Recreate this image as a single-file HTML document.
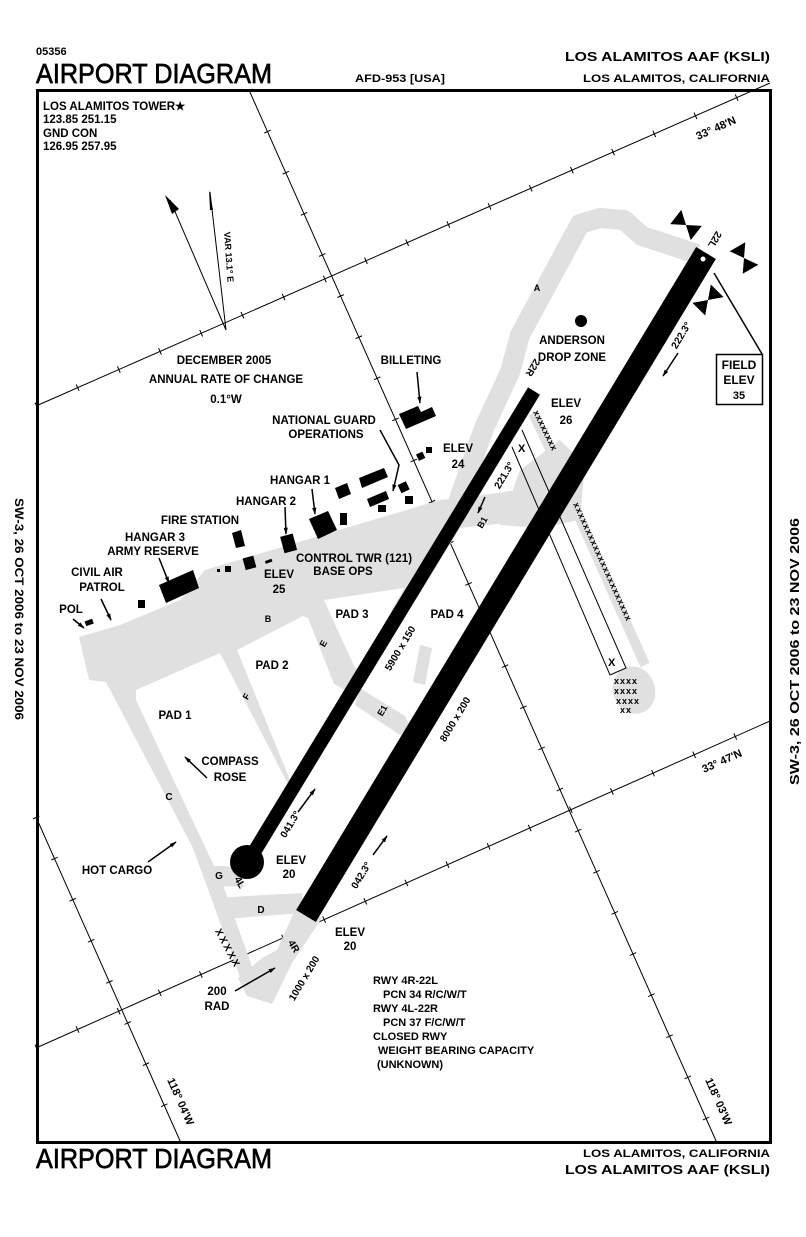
<!DOCTYPE html>
<html><head><meta charset="utf-8"><style>
html,body{margin:0;padding:0;background:#fff;}
svg{display:block;}
text{font-family:"Liberation Sans",sans-serif;font-weight:bold;fill:#000;}
</style></head><body>
<svg width="806" height="1237" viewBox="0 0 806 1237" xmlns="http://www.w3.org/2000/svg">
<defs>
<marker id="ah" viewBox="0 0 10 10" refX="9" refY="5" markerWidth="7" markerHeight="7" orient="auto-start-reverse" markerUnits="userSpaceOnUse"><path d="M0,2 L10,5 L0,8 Z" fill="#000"/></marker>
</defs>
<g font-size="11">
<!-- header -->
<text x="36" y="55" font-size="11">05356</text>
<text x="36" y="83" font-size="28" textLength="236" lengthAdjust="spacingAndGlyphs" style="font-weight:normal" stroke="#000" stroke-width="0.7">AIRPORT DIAGRAM</text>
<text x="355" y="82" font-size="11" textLength="90" lengthAdjust="spacingAndGlyphs">AFD-953 [USA]</text>
<text x="565" y="61" font-size="13" textLength="205" lengthAdjust="spacingAndGlyphs">LOS ALAMITOS AAF    (KSLI)</text>
<text x="583" y="82" font-size="11" textLength="187" lengthAdjust="spacingAndGlyphs">LOS ALAMITOS, CALIFORNIA</text>
<!-- footer -->
<text x="36" y="1168" font-size="28" textLength="236" lengthAdjust="spacingAndGlyphs" style="font-weight:normal" stroke="#000" stroke-width="0.7">AIRPORT DIAGRAM</text>
<text x="583" y="1157" font-size="11" textLength="187" lengthAdjust="spacingAndGlyphs">LOS ALAMITOS, CALIFORNIA</text>
<text x="565" y="1174" font-size="13" textLength="205" lengthAdjust="spacingAndGlyphs">LOS ALAMITOS AAF    (KSLI)</text>
<!-- side texts -->
<text transform="translate(15,498) rotate(90)" font-size="12" textLength="222" lengthAdjust="spacingAndGlyphs">SW-3, 26 OCT 2006 to 23 NOV 2006</text>
<text transform="translate(799,785) rotate(-90)" font-size="13" textLength="267" lengthAdjust="spacingAndGlyphs">SW-3, 26 OCT 2006 to 23 NOV 2006</text>
</g>

<!-- frame -->
<rect x="37.5" y="90.5" width="733" height="1052" fill="none" stroke="#000" stroke-width="3"/>

<!-- grid lines -->
<g stroke="#000" stroke-width="1" fill="none">
<line x1="36" y1="406" x2="770" y2="83"/>
<line x1="36" y1="1048" x2="770" y2="721"/>
<line x1="249" y1="90" x2="717" y2="1143"/>
<line x1="36" y1="817" x2="181" y2="1143"/>
</g>
<g stroke="#000" stroke-width="7" fill="none" stroke-dasharray="1 44">
<line x1="36" y1="406" x2="770" y2="83"/>
<line x1="36" y1="1048" x2="770" y2="721"/>
<line x1="249" y1="90" x2="717" y2="1143"/>
<line x1="36" y1="817" x2="181" y2="1143"/>
</g>

<!-- grey taxiways -->
<g fill="#e0e0e0" stroke="none">
<polyline points="697,254 642,236 624,220 600,218 580,224 520,335 510,372 484,428 458,502" fill="none" stroke="#e0e0e0" stroke-width="20" stroke-linejoin="round"/>
<polygon points="79,637 120,625 180,600 205,570 440,500 470,497 545,486 553,518 460,528 360,690 290,790 250,848 214,868 195,852 106,682 89,680"/>
<polygon points="106,680 136,700 207,840 255,975 247,995 240,977 190,840"/>
<polygon points="203,858 232,868 245,887 213,886"/>
<polygon points="212,898 302,893 302,913 225,919"/>
<polygon points="297,906 322,918 292,963 272,1004 247,996 238,978 262,958 277,950"/>
<polygon points="520,470 560,440 585,465 580,520 540,528 500,525"/>
<polygon points="360,688 405,716 412,730 400,735 355,705"/>
<polygon points="420,645 432,648 425,685 413,682"/>
<polygon points="283,700 293,703 288,735 278,732"/>
<polygon points="300,708 310,712 305,742 295,738"/>
<line x1="533" y1="413" x2="560" y2="470" stroke="#e0e0e0" stroke-width="10"/>
<line x1="573" y1="503" x2="645" y2="665" stroke="#e0e0e0" stroke-width="10"/>
<ellipse cx="634" cy="690" rx="21" ry="24" transform="rotate(-20 634 690)"/>
<polyline points="158,762 186,748" fill="none" stroke="#e0e0e0" stroke-width="7"/>
<circle cx="187" cy="748" r="6"/>
<polyline points="189,815 200,810 200,800" fill="none" stroke="#e0e0e0" stroke-width="6"/>
</g>
<!-- white pads -->
<g fill="#fff">
<polygon points="136,690 220,653 289,786 255,845 232,866 214,866 136,700"/>
<polygon points="237,650 303,616 308,618 334,684 345,690 294,775 290,780"/>
<polygon points="324,600 404,588 360,668 355,668"/>
</g>

<!-- closed runway outline -->
<g stroke="#000" stroke-width="1" fill="none">
<polyline points="512,447 610,675 626,668 522,430"/>
</g>
<g font-size="9">
<text transform="translate(533,412) rotate(64)" letter-spacing="0.5">xxxxxxxx</text>
<text transform="translate(573,504) rotate(65.5)" letter-spacing="0.9">xxxxxxxxxxxxxxxxxxxxxx</text>
<text x="614" y="684" letter-spacing="1">xxxx</text>
<text x="614" y="694" letter-spacing="1">xxxx</text>
<text x="616" y="704" letter-spacing="1">xxxx</text>
<text x="620" y="713" letter-spacing="1">xx</text>
</g>
<text x="518" y="452" font-size="11">X</text>
<text x="608" y="666" font-size="11">X</text>

<!-- runways -->
<line x1="306" y1="916" x2="706" y2="253" stroke="#000" stroke-width="23"/>
<circle cx="703" cy="259" r="2.5" fill="#fff"/>
<line x1="248" y1="862" x2="534" y2="391" stroke="#000" stroke-width="14"/>
<circle cx="247" cy="862" r="17" fill="#000"/>

<!-- bowties -->
<g fill="#000">
<g transform="translate(686,225) rotate(38)"><path d="M-13,-9 L0,0 L-13,9 Z M13,-9 L0,0 L13,9 Z"/></g>
<g transform="translate(744,258) rotate(60)"><path d="M-13,-9 L0,0 L-13,9 Z M13,-9 L0,0 L13,9 Z"/></g>
<g transform="translate(708,300) rotate(135)"><path d="M-13,-9 L0,0 L-13,9 Z M13,-9 L0,0 L13,9 Z"/></g>
</g>

<!-- buildings -->
<g fill="#000">
<polygon points="399,414 418,406 421,412 432,407 436,416 406,429"/>
<rect x="417" y="453" width="7" height="7" transform="rotate(-25 420 456)"/>
<rect x="426" y="447" width="6" height="6"/>
<polygon points="359,478 384,468 388,477 362,488"/>
<polygon points="335,488 347,483 351,494 339,499"/>
<polygon points="367,499 386,491 389,499 370,507"/>
<rect x="378" y="505" width="8" height="7"/>
<rect x="399" y="483" width="9" height="9" transform="rotate(-25 403 487)"/>
<rect x="405" y="496" width="8" height="8"/>
<polygon points="309,519 328,511 337,530 318,539"/>
<rect x="340" y="513" width="7" height="12"/>
<rect x="282" y="535" width="13" height="17" transform="rotate(-15 288 543)"/>
<polygon points="232,533 241,530 245,546 236,548"/>
<rect x="244" y="557" width="11" height="12" transform="rotate(-15 249 563)"/>
<rect x="225" y="566" width="6" height="6"/>
<rect x="217" y="569" width="3" height="3"/>
<rect x="265" y="560" width="7" height="3" transform="rotate(-20 268 561)"/>
<polygon points="159,585 193,570 199,588 166,603"/>
<rect x="138" y="600" width="7" height="8"/>
<rect x="85" y="620" width="8" height="5" transform="rotate(-20 89 622)"/>
<circle cx="581" cy="321" r="6"/>
</g>

<!-- magnetic arrows -->
<g stroke="#000" stroke-width="1" fill="none">
<line x1="226" y1="330" x2="170" y2="200"/>
<line x1="226" y1="330" x2="210" y2="192"/>
</g>
<polygon points="165,195 179,209 172,214" fill="#000"/>
<polygon points="209,190 213,210 210,210" fill="#000"/>
<text transform="translate(224,232) rotate(86)" font-size="9">VAR 13.1° E</text>

<!-- field elev box -->
<rect x="716.5" y="354.5" width="46" height="50" fill="#fff" stroke="#000" stroke-width="1.5"/>
<line x1="762" y1="354" x2="714" y2="273" stroke="#000" stroke-width="1.5"/>
<g font-size="12" text-anchor="middle">
<text x="739" y="369">FIELD</text>
<text x="739" y="384">ELEV</text>
<text x="739" y="399" font-size="11">35</text>
</g>

<!-- leader arrows -->
<g stroke="#000" stroke-width="1.5" fill="none" marker-end="url(#ah)">
<line x1="417" y1="372" x2="420" y2="403"/>
<polyline points="380,430 399,465 393,491"/>
<line x1="312" y1="489" x2="315" y2="514"/>
<line x1="285" y1="507" x2="286" y2="534"/>
<line x1="159" y1="558" x2="169" y2="583"/>
<line x1="101" y1="599" x2="111" y2="620"/>
<line x1="73" y1="619" x2="84" y2="628"/>
<line x1="207" y1="778" x2="185" y2="757"/>
<line x1="148" y1="862" x2="176" y2="842"/>
<line x1="235" y1="991" x2="275" y2="968"/>
<line x1="298" y1="812" x2="315" y2="789"/>
<line x1="373" y1="855" x2="387" y2="836"/>
<line x1="485" y1="497" x2="478" y2="513"/>
<line x1="663" y1="376" x2="678" y2="353" marker-start="url(#ah)" marker-end="none"/>
</g>

<!-- labels -->
<g font-size="11.5">
<text x="43" y="110">LOS ALAMITOS TOWER★</text>
<text x="43" y="123">123.85  251.15</text>
<text x="43" y="137">GND CON</text>
<text x="43" y="150">126.95  257.95</text>
</g>
<g font-size="11.5" text-anchor="middle">
<text x="224" y="364">DECEMBER 2005</text>
<text x="226" y="383">ANNUAL RATE OF CHANGE</text>
<text x="226" y="403">0.1°W</text>
<text x="411" y="364">BILLETING</text>
<text x="324" y="424">NATIONAL GUARD</text>
<text x="326" y="438">OPERATIONS</text>
<text x="300" y="484">HANGAR 1</text>
<text x="266" y="505">HANGAR 2</text>
<text x="200" y="524">FIRE STATION</text>
<text x="155" y="541">HANGAR 3</text>
<text x="153" y="555">ARMY RESERVE</text>
<text x="97" y="576">CIVIL AIR</text>
<text x="102" y="591">PATROL</text>
<text x="71" y="613">POL</text>
<text x="354" y="562">CONTROL TWR (121)</text>
<text x="343" y="575">BASE OPS</text>
<text x="279" y="578">ELEV</text>
<text x="279" y="593">25</text>
<text x="458" y="452">ELEV</text>
<text x="458" y="468">24</text>
<text x="566" y="407">ELEV</text>
<text x="566" y="424">26</text>
<text x="572" y="344">ANDERSON</text>
<text x="572" y="361">DROP ZONE</text>
<text x="352" y="618">PAD 3</text>
<text x="447" y="618">PAD 4</text>
<text x="272" y="669">PAD 2</text>
<text x="175" y="719">PAD 1</text>
<text x="230" y="765">COMPASS</text>
<text x="230" y="781">ROSE</text>
<text x="117" y="874">HOT CARGO</text>
<text x="291" y="864">ELEV</text>
<text x="289" y="878">20</text>
<text x="350" y="936">ELEV</text>
<text x="350" y="950">20</text>
<text x="217" y="995">200</text>
<text x="217" y="1010">RAD</text>
</g>
<g font-size="9" text-anchor="middle">
<text x="537" y="291">A</text>
<text x="268" y="622">B</text>
<text transform="translate(326,645) rotate(-60)">E</text>
<text transform="translate(249,698) rotate(-60)">F</text>
<text transform="translate(385,712) rotate(-60)">E1</text>
<text transform="translate(485,524) rotate(-60)">B1</text>
<text x="169" y="800" font-size="10">C</text>
<text x="219" y="879" font-size="10">G</text>
<text transform="translate(237,884) rotate(60)" font-size="10">4L</text>
<text x="261" y="913" font-size="10">D</text>
<text transform="translate(291,948) rotate(60)" font-size="10">4R</text>
<text transform="translate(530,366) rotate(121)" font-size="10">22R</text>
<text transform="translate(712,238) rotate(121)" font-size="10">22L</text>
</g>
<g font-size="10" text-anchor="middle">
<text transform="translate(403,650) rotate(-59)">5900 x 150</text>
<text transform="translate(458,721) rotate(-59)">8000 x 200</text>
<text transform="translate(307,980) rotate(-59)">1000 x 200</text>
<text transform="translate(293,826) rotate(-59)">041.3°</text>
<text transform="translate(364,877) rotate(-59)">042.3°</text>
<text transform="translate(507,477) rotate(-59)">221.3°</text>
<text transform="translate(684,337) rotate(-59)">222.3°</text>
<text transform="translate(225,950) rotate(62)" letter-spacing="2">XXXXX</text>
</g>
<g font-size="11">
<text x="373" y="984">RWY 4R-22L</text>
<text x="383" y="998">PCN 34 R/C/W/T</text>
<text x="373" y="1012">RWY 4L-22R</text>
<text x="383" y="1026">PCN 37 F/C/W/T</text>
<text x="373" y="1040">CLOSED RWY</text>
<text x="378" y="1054">WEIGHT BEARING CAPACITY</text>
<text x="377" y="1068">(UNKNOWN)</text>
</g>
<g font-size="11">
<text transform="translate(698,140) rotate(-24)">33° 48'N</text>
<text transform="translate(704,773) rotate(-24)">33° 47'N</text>
<text transform="translate(167,1080) rotate(66)">118° 04'W</text>
<text transform="translate(705,1080) rotate(66)">118° 03'W</text>
</g>
</svg>
</body></html>
